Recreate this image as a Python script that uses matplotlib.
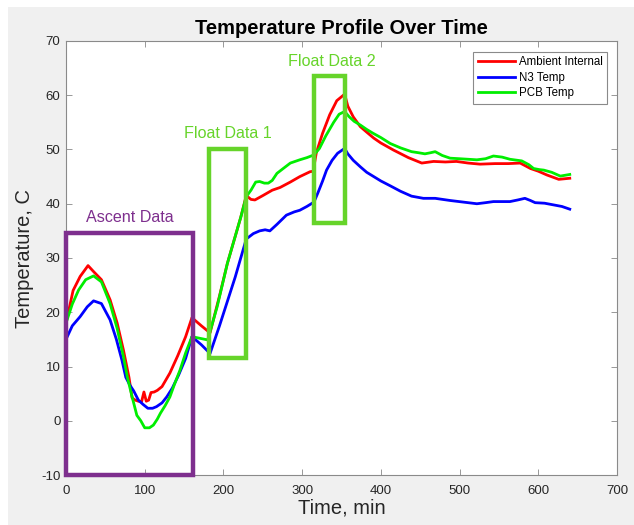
import matplotlib
matplotlib.use("Agg")
import matplotlib.pyplot as plt
from matplotlib.patches import Rectangle

plt.rcParams["font.family"] = ["Liberation Sans", "DejaVu Sans"]
plt.rcParams["axes.unicode_minus"] = False

# Ambient Internal (red)
t_amb = [0, 9, 18, 28, 35, 45, 56, 65, 73, 80, 84, 88, 92, 96, 99, 102, 105, 108,
         112, 116, 122, 132, 142, 152, 160, 172, 183, 195, 205, 215, 222, 229,
         235, 240, 250, 262, 272, 285, 297, 310, 314, 318, 326, 335, 344, 354, 358,
         365, 374, 382, 391, 400, 416, 435, 452, 467, 482, 496, 511, 526, 545, 562,
         577, 590, 600, 611, 626, 640]
T_amb = [18, 24, 26.6, 28.6, 27.5, 26, 22.3, 18, 13.0, 8, 4.2, 3.8, 3.6, 3.5, 5.3,
         3.6, 3.8, 5.2, 5.3, 5.6, 6.3, 8.8, 12, 15.5, 19, 17.5, 16.2, 23, 29, 34,
         37.5, 41.5, 40.8, 40.7, 41.5, 42.5, 43, 44, 45, 45.9, 46, 49.4, 53, 56.4,
         59, 60.2, 58, 56, 54.2, 53.2, 52.1, 51.2, 49.9, 48.5, 47.5, 47.8, 47.7,
         47.8, 47.5, 47.3, 47.4, 47.4, 47.5, 46.5, 46, 45.3, 44.5, 44.7]

# N3 Temp (blue)
t_n3 = [0, 8, 18, 27, 35, 45, 56, 64, 71, 76, 81, 86, 92, 98, 104, 110, 115, 122,
        128, 135, 143, 152, 160, 172, 183, 195, 205, 215, 222, 229, 238, 246, 253,
        259, 268, 280, 290, 297, 306, 315, 320, 326, 331, 338, 345, 354, 358, 365,
        374, 382, 391, 400, 412, 425, 439, 454, 469, 488, 505, 522, 533, 543, 554,
        564, 574, 583, 590, 596, 608, 619, 630, 640]
T_n3 = [15, 17.5, 19.2, 21, 22.1, 21.6, 18.6, 15, 11.2, 8, 6.6, 5.5, 3.8, 3, 2.3,
        2.3, 2.6, 3.3, 4.4, 6, 8.4, 11.5, 15.5, 14, 12.4, 17.5, 22, 26.5, 30, 33.5,
        34.5, 35, 35.2, 35, 36.2, 37.9, 38.5, 38.8, 39.5, 40.3, 42, 44.2, 46.2, 48,
        49.3, 50.2, 49.2, 48, 46.8, 45.8, 45, 44.2, 43.3, 42.3, 41.4, 41, 41, 40.6,
        40.3, 40, 40.2, 40.4, 40.4, 40.4, 40.7, 41, 40.6, 40.2, 40.1, 39.8, 39.5, 39]

# PCB Temp (green)
t_pcb = [0, 8, 16, 25, 35, 45, 56, 65, 73, 78, 84, 90, 95, 100, 106, 111, 116, 120,
         126, 132, 138, 145, 152, 160, 170, 180, 192, 205, 215, 222, 229, 235, 241,
         246, 252, 257, 262, 268, 276, 285, 297, 306, 315, 322, 330, 340, 347, 354,
         360, 366, 374, 382, 390, 400, 412, 425, 439, 448, 456, 463, 469, 478, 488,
         500, 511, 522, 533, 543, 554, 564, 579, 588, 594, 601, 607, 617, 628, 640]
T_pcb = [18, 21.5, 24.1, 26, 26.7, 25.6, 21.6, 17, 11.8, 8, 4.4, 1, 0, -1.3, -1.3,
         -0.8, 0.3, 1.4, 2.8, 4.4, 6.8, 9.4, 12.5, 15.5, 15.2, 14.9, 21, 29, 34,
         37.5, 41.3, 42.5, 44, 44.1, 43.8, 43.8, 44.3, 45.6, 46.5, 47.5, 48.1, 48.5,
         49, 50.2, 52.5, 55, 56.5, 57, 56, 55.2, 54.5, 53.7, 53, 52.2, 51.1, 50.3,
         49.6, 49.4, 49.2, 49.4, 49.6, 48.9, 48.4, 48.3, 48.2, 48.1, 48.3, 48.8,
         48.6, 48.2, 47.9, 47.2, 46.5, 46.3, 46.2, 45.8, 45.1, 45.4]

# highlighted regions: label, t start, t end, T low, T high
regions = [
    ("Ascent Data", 0, 161.4, -10, 34.7),
    ("Float Data 1", 182, 229, 11.6, 50.1),
    ("Float Data 2", 315.5, 354, 36.4, 63.5),
]
region_colors = ["#7e2f8e", "#66d42a", "#66d42a"]

fig = plt.figure(figsize=(6.34, 5.25), dpi=100, facecolor="white")
fig.add_artist(Rectangle((8 / 634, 0), 1, 1 - 7 / 525, transform=fig.transFigure,
                         facecolor="#f0f0f0", edgecolor="none", zorder=-10))
ax = fig.add_axes([66 / 634, 1 - 475 / 525, 551 / 634, 434 / 525])

ax.plot(t_amb, T_amb, color="#ff0000", lw=2, label="Ambient Internal")
ax.plot(t_n3, T_n3, color="#0000ff", lw=2, label="N3 Temp")
ax.plot(t_pcb, T_pcb, color="#00ee00", lw=2, label="PCB Temp")

for (name, t0, t1, lo, hi), c in zip(regions, region_colors):
    ax.add_patch(Rectangle((t0, lo), t1 - t0, hi - lo, fill=False, edgecolor=c,
                           lw=3.2, clip_on=False, zorder=5))
    ax.text((t0 + t1) / 2 if name != "Float Data 2" else t0 + 22, hi + 1.4, name,
            color=c, fontsize=11.6, ha="center", va="bottom")

ax.set_xlim(0, 700)
ax.set_ylim(-10, 70)
ax.set_xticks(range(0, 701, 100))
ax.set_yticks(range(-10, 71, 10))
ax.tick_params(direction="in", length=4, width=0.6, color="#888888",
               labelsize=9.5, labelcolor="#262626", top=True, right=True)
ax.tick_params(axis="x", pad=7)
ax.tick_params(axis="y", pad=4)
for s in ax.spines.values():
    s.set_color("#8a8a8a")
    s.set_linewidth(0.8)

ax.set_title("Temperature Profile Over Time", fontsize=14.5, fontweight="bold",
             pad=5)
ax.set_xlabel("Time, min", fontsize=14.5, color="#262626")
ax.set_ylabel("Temperature, C", fontsize=14.5, color="#262626")
ax.xaxis.set_label_coords(0.5, -0.055)
ax.yaxis.set_label_coords(-0.058, 0.5)

leg = ax.legend(loc="upper right", bbox_to_anchor=(0.982, 0.975), borderaxespad=0,
                fontsize=8.3, handlelength=3.2, handletextpad=0.35,
                labelspacing=0.3, fancybox=False, framealpha=1,
                edgecolor="#8a8a8a", borderpad=0.4)
leg.get_frame().set_linewidth(0.8)

fig.savefig("out.png", dpi=100)
